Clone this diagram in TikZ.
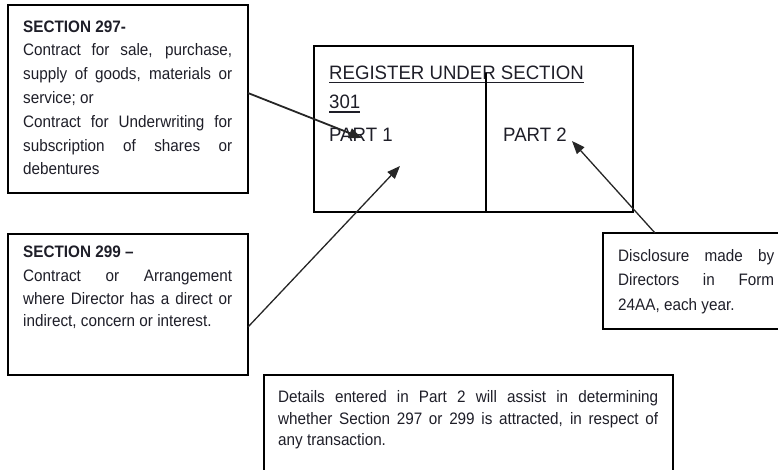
\documentclass[tikz,border=0pt]{standalone}
\usepackage{fontspec}
\setmainfont{Liberation Sans}
\newfontfamily\narrowsans[FakeStretch=0.92,Ligatures=TeX]{Liberation Sans}
\newfontfamily\widesans[FakeStretch=0.96,Ligatures=TeX]{Liberation Sans}
\usetikzlibrary{arrows.meta}
\definecolor{ink}{HTML}{1E1E28}
\begin{document}
\begin{tikzpicture}[x=1pt,y=-1pt,
  frame/.style={draw=black, line width=1.6pt, anchor=north west, inner sep=0pt, outer sep=0pt},
  body/.style={anchor=base west, inner sep=0pt, text=ink, font=\narrowsans\fontsize{16.6}{19}\selectfont},
  bodybold/.style={body, font=\narrowsans\fontsize{16.6}{19}\selectfont\bfseries},
  big/.style={anchor=base west, inner sep=0pt, text=ink, font=\widesans\fontsize{19.4}{22}\selectfont},
  rule/.style={draw=ink, line width=1.4pt},
  link/.style={draw=black!85, line width=1.3pt, -{Triangle[length=13pt,width=10pt]}}]
\useasboundingbox (0,0) rectangle (778,469);
\clip (0,0) rectangle (778,469);

% --- frames ---
\node[frame, minimum width=240pt, minimum height=188pt] (s297) at (8,5) {};
\node[frame, minimum width=240pt, minimum height=141pt] (s299) at (8,234) {};
\node[frame, minimum width=319pt, minimum height=166pt] (reg) at (314,46) {};
\node[frame, minimum width=300pt, minimum height=96pt] (disc) at (603,233) {};
\node[frame, minimum width=409pt, minimum height=150pt] (note) at (264,375) {};

% --- Section 297 text ---
\node[bodybold] (a0) at (23,32) {SECTION 297-};
\node[body] (a1) at (23,55.8) {\makebox[209pt][s]{Contract for sale, purchase,}};
\node[body] (a2) at (23,79.6) {\makebox[209pt][s]{supply of goods, materials or}};
\node[body] (a3) at (23,103.4) {service; or};
\node[body] (a4) at (23,127.2) {\makebox[209pt][s]{Contract for Underwriting for}};
\node[body] (a5) at (23,151) {\makebox[209pt][s]{subscription of shares or}};
\node[body] (a6) at (23,174.8) {debentures};

% --- Section 299 text ---
\node[bodybold] (b0) at (23,257) {SECTION 299 –};
\node[body] (b1) at (23,281) {\makebox[209pt][s]{Contract or Arrangement}};
\node[body] (b2) at (23,304) {\makebox[209pt][s]{where Director has a direct or}};
\node[body] (b3) at (23,326.5) {indirect, concern or interest.};

% --- register ---
\node[big] (r0) at (329,79) {REGISTER UNDER SECTION};
\node[big] (r1) at (329,108) {301};
\draw[rule] ([yshift=-3.5pt]r0.base west) -- ([yshift=-3.5pt]r0.base east);
\draw[rule] ([yshift=-4pt]r1.base west) -- ([yshift=-4pt]r1.base east);
\coordinate (divtop) at (486,73);
\draw[draw=black, line width=1.6pt] (divtop) -- (divtop |- reg.south);
\node[big] (p1) at (329,141.5) {PART 1};
\node[big] (p2) at (503,141.5) {PART 2};

% --- disclosure text ---
\node[body] (c0) at (618,261.5) {\makebox[156pt][s]{Disclosure made by}};
\node[body] (c1) at (618,285.5) {\makebox[156pt][s]{Directors in Form}};
\node[body] (c2) at (618,310.5) {24AA, each year.};

% --- note text ---
\node[body] (d0) at (278,402.5) {\makebox[380pt][s]{Details entered in Part 2 will assist in determining}};
\node[body] (d1) at (278,424) {\makebox[380pt][s]{whether Section 297 or 299 is attracted, in respect of}};
\node[body] (d2) at (278,445.5) {any transaction.};

% --- connectors ---
\coordinate (tip1) at (362,138);
\coordinate (tip2) at (400,166);
\coordinate (tip3) at (572,141);
\draw[link, line width=1.8pt] ([yshift=-88pt]s297.north east) -- (tip1);
\draw[link] ([yshift=-93pt]s299.north east) -- (tip2);
\draw[link] ([xshift=52pt]disc.north west) -- (tip3);
\end{tikzpicture}
\end{document}
